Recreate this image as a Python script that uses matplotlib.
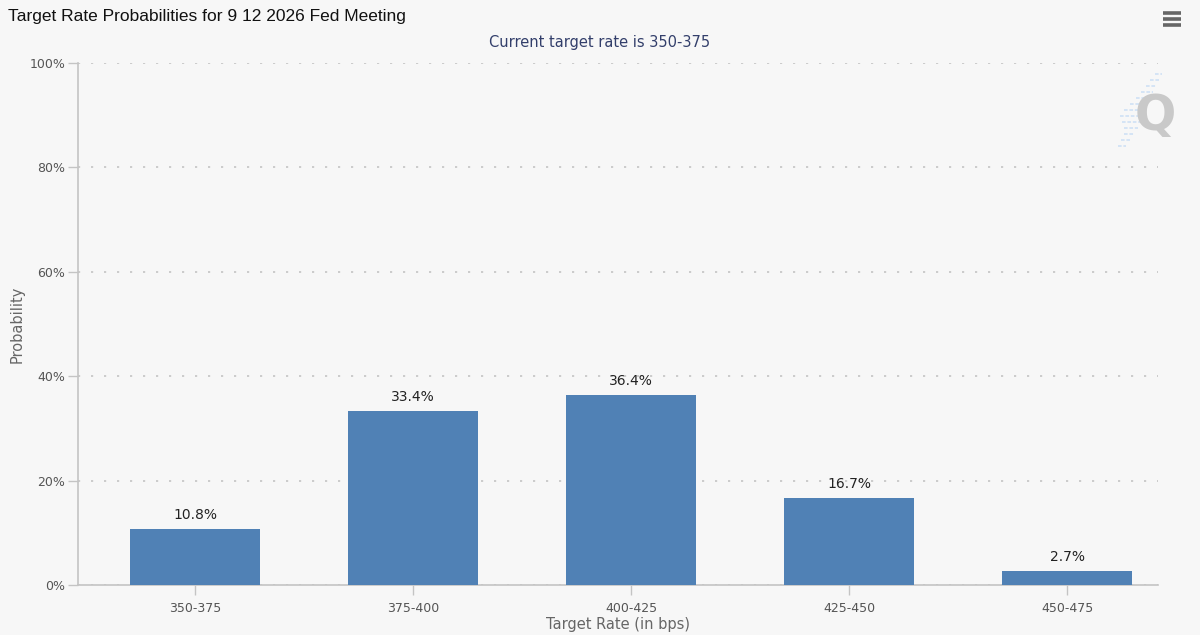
import matplotlib
matplotlib.use("Agg")
import matplotlib.pyplot as plt
from matplotlib.lines import Line2D

categories = ["350-375", "375-400", "400-425", "425-450", "450-475"]
probabilities = [10.8, 33.4, 36.4, 16.7, 2.7]
y_ticks = [0, 20, 40, 60, 80, 100]
y_tick_labels = ["0%", "20%", "40%", "60%", "80%", "100%"]

BG = "#f7f7f7"
BAR = "#5081b5"

fig = plt.figure(figsize=(12, 6.35), dpi=100, facecolor=BG)
ax = fig.add_axes([0.065, 0.0787, 0.9, 0.8221], facecolor=BG)

x = list(range(len(categories)))
ax.bar(x, probabilities, width=0.6, color=BAR, zorder=3)
for xi, v in zip(x, probabilities):
    ax.annotate(f"{v}%", (xi, v), xytext=(0, 5), textcoords="offset points",
                ha="center", va="bottom", fontsize=10, color="#222222",
                family="DejaVu Sans")

ax.set_xlim(-0.537, 4.417)
ax.set_ylim(0, 100)
ax.set_yticks(y_ticks)
ax.set_yticklabels(y_tick_labels)
ax.set_xticks(x)
ax.set_xticklabels(categories)

ax.grid(axis="y", color="#c8c8c8", linestyle=(0, (1.2, 6)), linewidth=1.3, zorder=0)
for s in ["top", "right"]:
    ax.spines[s].set_visible(False)
for s in ["left", "bottom"]:
    ax.spines[s].set_color("#c4c4c4")
    ax.spines[s].set_linewidth(1.2)
ax.tick_params(axis="both", colors="#c4c4c4", labelcolor="#555555", labelsize=9,
               length=7, width=1)
ax.tick_params(axis="x", pad=5)
ax.tick_params(axis="y", pad=2)

ax.set_xlabel("Target Rate (in bps)", fontsize=10.5, color="#666666", labelpad=2)
ax.set_ylabel("Probability", fontsize=10.5, color="#666666")
ax.yaxis.set_label_coords(-0.049, 0.5)

fig.text(8 / 1200, 1 - 16 / 635, "Target Rate Probabilities for 9 12 2026 Fed Meeting",
         ha="left", va="center", fontsize=12.5, color="#111111", family="Liberation Sans")
fig.text(600 / 1200, 1 - 42 / 635, "Current target rate is 350-375",
         ha="center", va="center", fontsize=10.5, color="#333f6b")

# watermark
for x0, x1, yy in [(1155, 1162, 74), (1150, 1159, 80), (1146, 1156, 86),
                   (1141, 1153, 92), (1136, 1150, 98), (1130, 1147, 104),
                   (1124, 1145, 110), (1120, 1143, 116), (1122, 1141, 122),
                   (1124, 1138, 128), (1124, 1134, 134), (1121, 1130, 140),
                   (1118, 1126, 146)]:
    fig.add_artist(Line2D([x0 / 1200, x1 / 1200], [1 - yy / 635, 1 - yy / 635],
                          color="#d2e2f5", linewidth=1.3, linestyle=(0, (2, 1))))
fig.text(1155 / 1200, 1 - 116 / 635, "Q", ha="center", va="center", fontsize=35,
         color="#c9c9c9", fontweight="bold", family="DejaVu Sans")

# menu icon
for yy in [13, 19, 25]:
    fig.add_artist(Line2D([1163 / 1200, 1181 / 1200], [1 - yy / 635, 1 - yy / 635],
                          color="#666666", linewidth=2.6, solid_capstyle="butt"))

fig.savefig("out.png", dpi=100, facecolor=BG)
